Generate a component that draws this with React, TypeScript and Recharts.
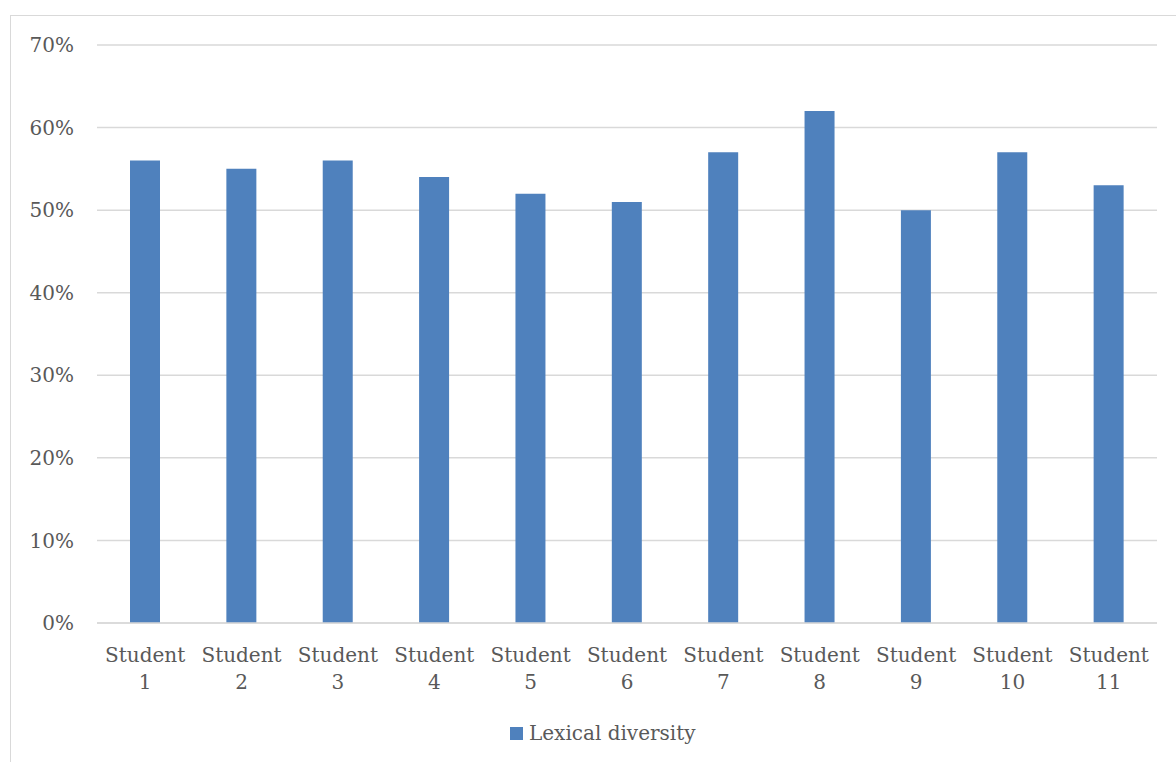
import React from "react";
import { BarChart, Bar, XAxis, YAxis, CartesianGrid } from "recharts";

// Lexical diversity per student (share of unique words)
const students = ["1", "2", "3", "4", "5", "6", "7", "8", "9", "10", "11"];
const lexicalDiversity = [0.56, 0.55, 0.56, 0.54, 0.52, 0.51, 0.57, 0.62, 0.5, 0.57, 0.53];
const yTicks = [0, 0.1, 0.2, 0.3, 0.4, 0.5, 0.6, 0.7];

const data = students.map((s, i) => ({
  name: "Student " + s,
  num: s,
  value: lexicalDiversity[i],
}));

const FONT = "'DejaVu Serif', serif";
const TEXT = "#595959";
const GRID = "#d9d9d9";
const BAR = "#4f81bd";

const StudentTick = (props: any) => {
  const { x, y, payload } = props;
  const item = data[payload.index] || data.find((d) => d.name === payload.value);
  const num = item ? item.num : "";
  return (
    <g transform={`translate(${x},${y})`}>
      <text x={0} y={31} textAnchor="middle" fill={TEXT} fontFamily={FONT} fontSize={20}>
        Student
      </text>
      <text x={0} y={58} textAnchor="middle" fill={TEXT} fontFamily={FONT} fontSize={20}>
        {num}
      </text>
    </g>
  );
};

export default function App() {
  return (
    <div style={{ position: "absolute", left: 0, top: 0, width: 1176, height: 762, overflow: "hidden", background: "#fff" }}>
      <div
        style={{
          position: "absolute",
          left: 10,
          top: 15,
          width: 1300,
          height: 900,
          border: `1px solid ${GRID}`,
          boxSizing: "border-box",
        }}
      />
      <div style={{ position: "absolute", left: 0, top: 0 }}>
        <BarChart
          width={1176}
          height={762}
          data={data}
          margin={{ top: 45, right: 19, bottom: 0, left: 0 }}
        >
          <CartesianGrid vertical={false} stroke={GRID} strokeWidth={1.5} />
          <XAxis
            dataKey="name"
            axisLine={{ stroke: GRID, strokeWidth: 1.5 }}
            tickLine={false}
            interval={0}
            height={139}
            tick={<StudentTick />}
          />
          <YAxis
            width={97}
            domain={[0, 0.7]}
            ticks={yTicks}
            axisLine={false}
            tickLine={false}
            tickMargin={17}
            tickFormatter={(v: number) => `${Math.round(v * 100)}%`}
            tick={{ fill: TEXT, fontFamily: FONT, fontSize: 20 }}
          />
          <Bar dataKey="value" fill={BAR} barSize={30} isAnimationActive={false} />
        </BarChart>
      </div>
      {/* legend */}
      <div
        style={{
          position: "absolute",
          left: 510,
          top: 721,
          display: "flex",
          alignItems: "center",
          fontFamily: FONT,
          fontSize: 20,
          color: TEXT,
          whiteSpace: "nowrap",
        }}
      >
        <span style={{ display: "inline-block", width: 13, height: 13, background: BAR, marginRight: 6 }} />
        <span>Lexical diversity</span>
      </div>
    </div>
  );
}
